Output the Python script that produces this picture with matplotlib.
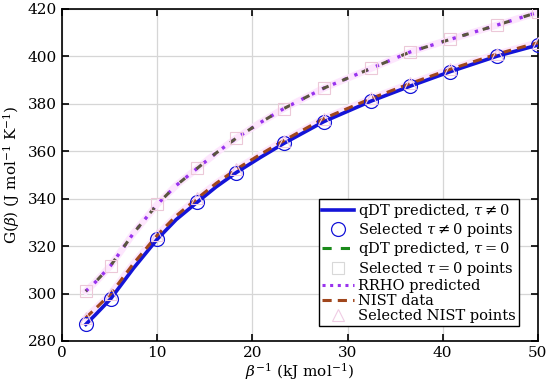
import matplotlib
matplotlib.use('Agg')
import matplotlib.pyplot as plt
from matplotlib.lines import Line2D

plt.rcParams['font.family'] = ['DejaVu Serif']
plt.rcParams['mathtext.fontset'] = 'dejavuserif'

# values (selected points)
x_pts = [2.5, 5.1, 10.0, 14.2, 18.3, 23.3, 27.5, 32.5, 36.6, 40.8, 45.7, 50.0]
g_tau = [287.0, 297.7, 322.9, 338.5, 351.0, 363.3, 372.5, 381.2, 387.5, 393.6, 400.1, 404.8]
g_tau0 = [301.0, 311.7, 337.6, 352.8, 365.5, 378.0, 386.6, 395.0, 401.9, 407.2, 413.2, 418.6]
g_nist = [289.8, 299.8, 324.6, 340.1, 352.4, 364.5, 373.8, 382.3, 388.6, 394.6, 401.0, 405.8]

# curves, read at more x positions
x_line = [2.5, 3.5, 5.1, 7.5, 10.0, 12.0, 14.2, 16.2, 18.3, 20.8, 23.3, 27.5, 32.5, 36.6, 40.8, 45.7, 50.0]
g_tau_line = [287.0, 291.0, 297.7, 310.6, 322.9, 331.2, 338.5, 345.0, 351.0, 357.3, 363.3, 372.5, 381.2, 387.5, 393.6, 400.1, 404.8]
g_tau0_line = [301.0, 304.8, 311.7, 325.4, 337.6, 345.6, 352.8, 359.3, 365.5, 372.0, 378.0, 386.6, 395.0, 401.9, 407.2, 413.2, 418.6]
g_rrho_line = [301.0, 304.8, 311.7, 325.4, 337.6, 345.6, 352.8, 359.3, 365.5, 372.0, 378.0, 386.6, 395.0, 401.9, 407.2, 413.2, 418.6]
g_nist_line = [289.8, 293.6, 299.8, 312.6, 324.6, 332.8, 340.1, 346.5, 352.4, 358.6, 364.5, 373.8, 382.3, 388.6, 394.6, 401.0, 405.8]

fig = plt.figure(figsize=(5.5, 3.89), dpi=100)
ax = fig.add_axes([0.1127, 0.1234, 0.8653, 0.8535])

c_blue = '#1414d8'
c_green = '#1a8a1a'
c_purple = '#9933ee'
c_nist = '#a0461c'
c_pink = '#fde6fd'

# faint pink halo along the curves
ax.plot(x_line, g_rrho_line, color=c_pink, lw=5, zorder=1)
ax.plot(x_line, g_nist_line, color=c_pink, lw=5, zorder=1)

ax.plot(x_line, g_tau_line, color=c_blue, lw=2.6, zorder=3)
ax.plot(x_pts, g_tau, 'o', mfc='none', mec=c_blue, ms=10, mew=0.9, zorder=5)
ax.plot(x_line, g_rrho_line, color=c_purple, lw=2.4, ls=(0, (1, 2.5)), zorder=3)
ax.plot(x_line, g_tau0_line, color='#5a5540', lw=2.2, ls=(1.8, (2.2, 4.8)), zorder=4)
ax.plot(x_pts, g_tau0, 's', mfc='none', mec='#ecc8d8', ms=8, mew=0.8, zorder=5)
ax.plot(x_line, g_nist_line, color=c_nist, lw=2.2, ls=(0, (3, 2)), zorder=4)
ax.plot(x_pts, g_nist, '^', mfc='none', mec='#f0cce4', ms=8, mew=0.8, zorder=5)

ax.set_xlim(0, 50)
ax.set_ylim(280, 420)
ax.set_xticks([0, 10, 20, 30, 40, 50])
ax.set_yticks([280, 300, 320, 340, 360, 380, 400, 420])
ax.grid(True, color='#d6d6d6', lw=0.9)
ax.set_axisbelow(True)
ax.tick_params(direction='in', top=True, right=True, length=5, width=1.2, labelsize=11)
for s in ax.spines.values():
    s.set_linewidth(1.2)

ax.set_xlabel(r'$\beta^{-1}$ (kJ mol$^{-1}$)', fontsize=11, labelpad=1)
ax.set_ylabel(r'G($\beta$) (J mol$^{-1}$ K$^{-1}$)', fontsize=11, labelpad=4)

handles = [
    Line2D([], [], color=c_blue, lw=2.6),
    Line2D([], [], ls='none', marker='o', mfc='none', mec=c_blue, ms=10, mew=0.9),
    Line2D([], [], color=c_green, lw=2.2, ls=(0, (3, 3))),
    Line2D([], [], ls='none', marker='s', mfc='none', mec='#d8d8d8', ms=8, mew=0.8),
    Line2D([], [], color=c_purple, lw=2.2, ls=(0, (1, 1.5))),
    Line2D([], [], color=c_nist, lw=2.2, ls=(0, (3, 2))),
    Line2D([], [], ls='none', marker='^', mfc='none', mec='#f0cce4', ms=8, mew=0.8),
]
labels = [
    r'qDT predicted, $\tau \neq 0$',
    r'Selected $\tau \neq 0$ points',
    r'qDT predicted, $\tau = 0$',
    r'Selected $\tau = 0$ points',
    'RRHO predicted',
    'NIST data',
    'Selected NIST points',
]
leg = ax.legend(handles, labels, loc='lower right', bbox_to_anchor=(0.96, 0.045),
                fontsize=10.5, frameon=True, fancybox=False, edgecolor='black',
                framealpha=1, handlelength=2.2, handletextpad=0.3, labelspacing=0.08,
                borderpad=0.2, borderaxespad=0)
leg.get_frame().set_linewidth(1.0)

fig.savefig('out.png', dpi=100)
